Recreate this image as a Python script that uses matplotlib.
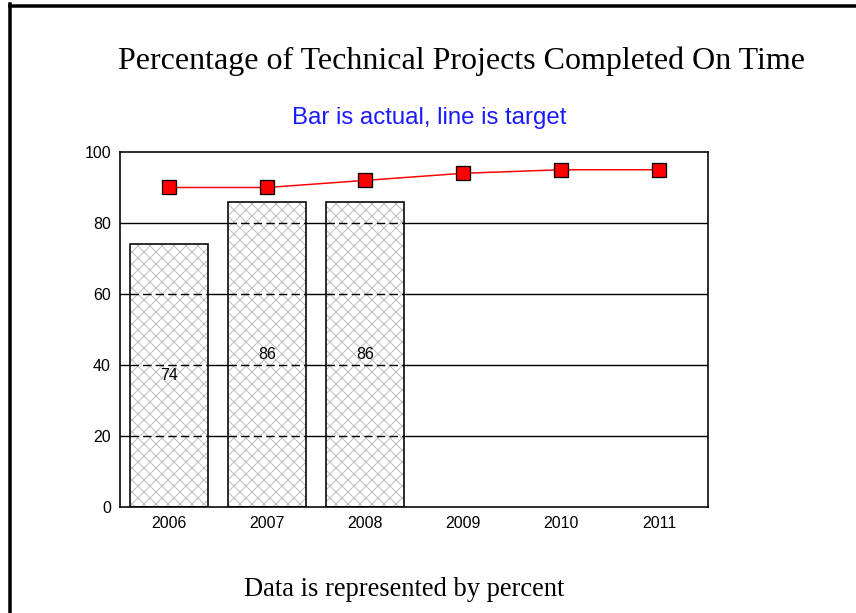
import matplotlib.pyplot as plt
from matplotlib.lines import Line2D

# values
years = ['2006', '2007', '2008', '2009', '2010', '2011']
actual = [74, 86, 86]          # bars (only first 3 years reported)
target = [90, 90, 92, 94, 95, 95]  # red line
grid_levels = [20, 40, 60, 80]

DPI = 72
fig = plt.figure(figsize=(856 / DPI, 613 / DPI), dpi=DPI)
fig.patch.set_facecolor('white')

# thick frame on left and top (the rest is cropped away in the reference)
fig.add_artist(Line2D([10 / 856, 10 / 856], [0, 1 - 4 / 613], color='black', lw=3.5))
fig.add_artist(Line2D([10 / 856, 1], [1 - 5.5 / 613, 1 - 5.5 / 613], color='black', lw=3.5))

ax = fig.add_axes([120 / 856, 106 / 613, 588 / 856, 355 / 613])
xpos = list(range(len(years)))
bar_w = 0.8

ax.set_xlim(-0.5, len(years) - 0.5)
ax.set_ylim(0, 100)

# solid gridlines behind everything
for g in grid_levels:
    ax.axhline(g, color='black', lw=1.4, zorder=1)

# bars: gray crosshatch fill, then black outline on top
plt.rcParams['hatch.linewidth'] = 1.0
ax.bar(xpos[:len(actual)], actual, width=bar_w, color='white', edgecolor='#bdbdbd',
       hatch='xx', linewidth=0, zorder=2)
bars = ax.bar(xpos[:len(actual)], actual, width=bar_w, fill=False, edgecolor='black',
              linewidth=1.6, zorder=4)

# gridlines look dashed where they cross the bars
for i, v in enumerate(actual):
    for g in grid_levels:
        if g < v:
            ax.hlines(g, i - bar_w / 2, i + bar_w / 2, colors='black', lw=1.4,
                      linestyles=(0, (6, 3)), zorder=3)

ax.bar_label(bars, labels=[str(v) for v in actual], label_type='center',
             fontsize=16, family='Liberation Sans', color='black', zorder=5)

ax.plot(xpos, target, color='red', lw=1.5, marker='s', markersize=14,
        markerfacecolor='red', markeredgecolor='black', markeredgewidth=1.3, zorder=6,
        clip_on=False)

for s in ax.spines.values():
    s.set_linewidth(1.6)
    s.set_zorder(7)

ax.set_xticks(xpos)
ax.set_xticklabels(years)
ax.set_yticks([0, 20, 40, 60, 80, 100])
ax.tick_params(length=0, pad=9, labelsize=16)
for lab in ax.get_xticklabels() + ax.get_yticklabels():
    lab.set_family('Liberation Sans')

fig.text(462 / 856, 1 - 61 / 613, 'Percentage of Technical Projects Completed On Time',
         ha='center', va='center', fontsize=32, family='Liberation Serif')
fig.text(429 / 856, 1 - 118 / 613, 'Bar is actual, line is target',
         ha='center', va='center', fontsize=24, family='Liberation Sans', color='#1a1aff')
fig.text(404 / 856, 1 - 589 / 613, 'Data is represented by percent',
         ha='center', va='center', fontsize=26.5, family='Liberation Serif')

fig.savefig('out.png', dpi=DPI)
